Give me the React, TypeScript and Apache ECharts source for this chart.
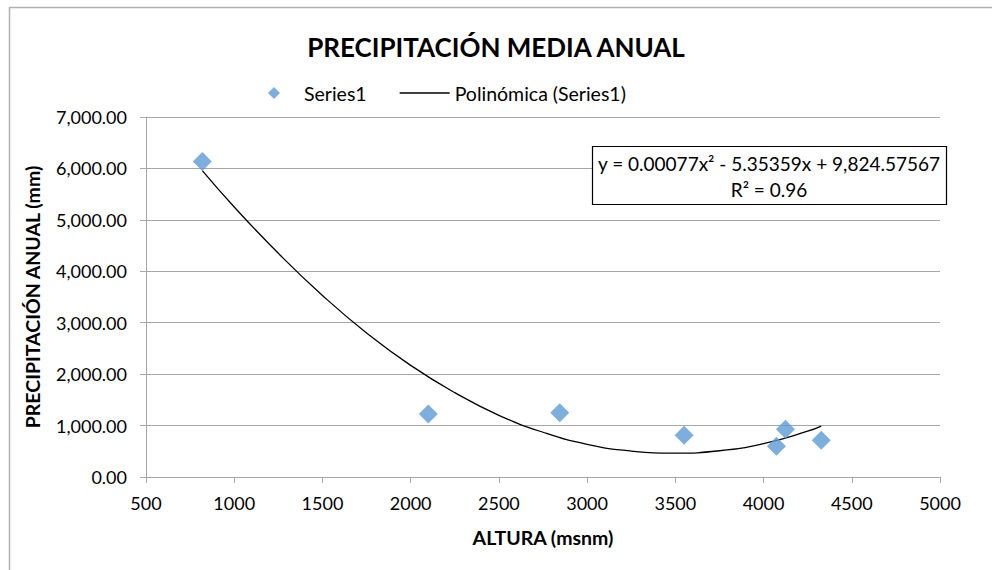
import React, { useEffect, useRef } from "react";
import * as echarts from "echarts";

// Observed data (altitude in msnm, annual precipitation in mm)
const altura = [819, 2100, 2845, 3550, 4073, 4124, 4327];
const precipitacion = [6137, 1227, 1247, 812, 598, 929, 715];

// Polynomial trendline
const trendX = [819, 1000, 1250, 1500, 1750, 2000, 2250, 2500, 2750, 3000, 3250, 3500, 3750, 4000, 4250, 4327];
const trendY = [5956, 5250, 4350, 3530, 2800, 2170, 1640, 1200, 870, 635, 505, 465, 510, 650, 890, 990];

const yTicks = [0, 7000, 1000];
const xTicks = [500, 5000, 500];

const titleText = "PRECIPITACIÓN MEDIA ANUAL";
const equationLine1 = "y = 0.00077x² - 5.35359x + 9,824.57567";
const equationLine2 = "R² = 0.96";

const FONT = "Lato, 'Open Sans', sans-serif";

export default function App() {
  const ref = useRef<HTMLDivElement>(null);
  useEffect(() => {
    if (!ref.current) return;
    const chart = echarts.init(ref.current, null, { renderer: "svg" });
    const scatterData = altura.map((x, i) => [x, precipitacion[i]]);
    const trendData = trendX.map((x, i) => [x, trendY[i]]);
    chart.setOption({
      animation: false,
      backgroundColor: "#ffffff",
      textStyle: { fontFamily: FONT },
      title: {
        text: titleText,
        left: "center",
        top: 29,
        textStyle: { fontFamily: FONT, fontSize: 26, fontWeight: "bold", color: "#000" },
      },
      legend: {
        top: 78,
        left: 263,
        itemWidth: 50,
        itemHeight: 12,
        itemGap: 33,
        textStyle: { fontFamily: FONT, fontSize: 19.5, color: "#000" },
        data: [
          { name: "Series1", icon: "path://M6,0L12,6L6,12L0,6Z", itemStyle: { color: "#5b9bd5" } },
          {
            name: "Polinómica (Series1)",
            icon: "path://M0,0L50,0L50,1.3L0,1.3Z",
            itemStyle: { color: "#000" },
          },
        ],
      },
      grid: { left: 146, top: 117, right: 52, bottom: 93, containLabel: false },
      xAxis: {
        type: "value",
        min: xTicks[0],
        max: xTicks[1],
        interval: xTicks[2],
        name: "ALTURA (msnm)",
        nameLocation: "middle",
        nameGap: 50,
        nameTextStyle: { fontFamily: FONT, fontSize: 19.5, fontWeight: "bold", color: "#000" },
        axisLine: { show: true, lineStyle: { color: "#a6a6a6", width: 1 } },
        axisTick: { show: true, inside: false, length: 6, lineStyle: { color: "#a6a6a6" } },
        axisLabel: {
          fontFamily: FONT,
          fontSize: 18,
          color: "#000",
          margin: 17,
          formatter: (v: number) => String(v),
        },
        splitLine: { show: false },
      },
      yAxis: {
        type: "value",
        min: yTicks[0],
        max: yTicks[1],
        interval: yTicks[2],
        name: "PRECIPITACIÓN ANUAL (mm)",
        nameLocation: "middle",
        nameGap: 104,
        nameRotate: 90,
        nameTextStyle: { fontFamily: FONT, fontSize: 19.5, fontWeight: "bold", color: "#000" },
        axisLine: { show: true, lineStyle: { color: "#a6a6a6", width: 1 } },
        axisTick: { show: true, inside: false, length: 6, lineStyle: { color: "#a6a6a6" } },
        axisLabel: {
          fontFamily: FONT,
          fontSize: 18,
          color: "#000",
          margin: 19,
          formatter: (v: number) =>
            v.toLocaleString("en-US", { minimumFractionDigits: 2, maximumFractionDigits: 2 }),
        },
        splitLine: { show: true, lineStyle: { color: "#a6a6a6", width: 1 } },
      },
      series: [
        {
          name: "Series1",
          type: "scatter",
          data: scatterData,
          symbol: "diamond",
          symbolSize: 19,
          itemStyle: { color: "#5b9bd5" },
          z: 3,
        },
        {
          name: "Polinómica (Series1)",
          type: "line",
          data: trendData,
          smooth: true,
          symbol: "none",
          showSymbol: false,
          lineStyle: { color: "#000", width: 1.3 },
          itemStyle: { color: "#000" },
          z: 2,
        },
      ],
      graphic: [
        {
          type: "rect",
          shape: { x: 9.5, y: 7.5, width: 1200, height: 1000 },
          style: { fill: "none", stroke: "#b0b0b0", lineWidth: 1.5 },
          silent: true,
          z: 0,
        },
        {
          type: "rect",
          shape: { x: 592.5, y: 146.5, width: 354, height: 58 },
          style: { fill: "#fff", stroke: "#000", lineWidth: 1.2 },
          z: 10,
        },
        {
          type: "text",
          x: 769,
          y: 163,
          style: {
            text: equationLine1,
            fontFamily: FONT,
            fontSize: 19,
            fill: "#000",
            align: "center",
            verticalAlign: "middle",
          },
          z: 11,
        },
        {
          type: "text",
          x: 769,
          y: 189,
          style: {
            text: equationLine2,
            fontFamily: FONT,
            fontSize: 19,
            fill: "#000",
            align: "center",
            verticalAlign: "middle",
          },
          z: 11,
        },
      ],
    });
    return () => chart.dispose();
  }, []);
  return (
    <div
      ref={ref}
      style={{ position: "fixed", left: 0, top: 0, width: 992, height: 570 }}
    />
  );
}
